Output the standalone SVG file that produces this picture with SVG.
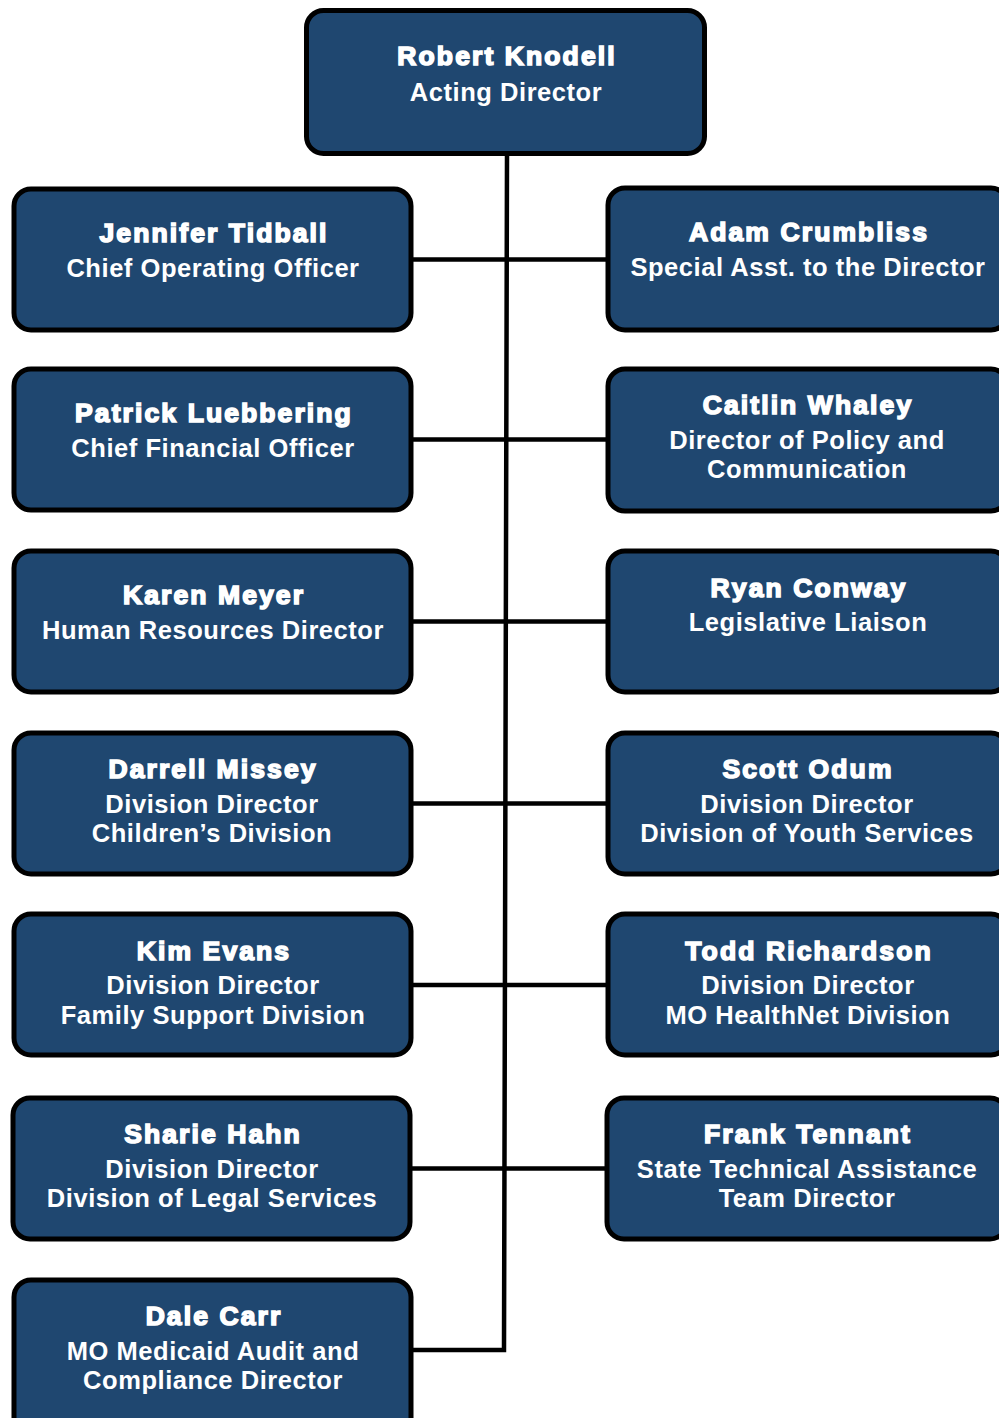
<svg xmlns="http://www.w3.org/2000/svg" width="999" height="1418" viewBox="0 0 999 1418">
<style>
.box{fill:#1F4770;stroke:#000;stroke-width:5}
.nm{font-family:"Liberation Sans",Arial,sans-serif;font-weight:bold;font-size:26.5px;fill:#fff;stroke:#fff;stroke-width:1.6;letter-spacing:2.1px;text-anchor:middle}
.tt{font-family:"Liberation Sans",Arial,sans-serif;font-weight:bold;font-size:25.5px;fill:#fff;letter-spacing:0.55px;text-anchor:middle}
.cn{fill:none;stroke:#000;stroke-width:4.5}
</style>
<rect width="999" height="1418" fill="#fff"/>
<g id="connectors">
<polyline class="cn" points="507,154 504,1350 413,1350"/>
<line class="cn" x1="411" y1="259.5" x2="608" y2="259.5"/>
<line class="cn" x1="411" y1="439.5" x2="608" y2="439.5"/>
<line class="cn" x1="411" y1="621.5" x2="608" y2="621.5"/>
<line class="cn" x1="411" y1="803.5" x2="608" y2="803.5"/>
<line class="cn" x1="411" y1="985" x2="608" y2="985"/>
<line class="cn" x1="411" y1="1168.5" x2="608" y2="1168.5"/>
</g>
<g id="robert-knodell">
<rect class="box" x="306.5" y="10.5" width="398" height="143" rx="17"/>
<text class="nm" x="507" y="65">Robert Knodell</text>
<text class="tt" x="506" y="101">Acting Director</text>
</g>
<g id="jennifer-tidball">
<rect class="box" x="14" y="189" width="397" height="141" rx="17"/>
<text class="nm" x="214" y="242">Jennifer Tidball</text>
<text class="tt" x="213" y="277">Chief Operating Officer</text>
</g>
<g id="adam-crumbliss">
<rect class="box" x="608" y="188" width="400" height="142" rx="17"/>
<text class="nm" x="809" y="241">Adam Crumbliss</text>
<text class="tt" x="808" y="276">Special Asst. to the Director</text>
</g>
<g id="patrick-luebbering">
<rect class="box" x="14" y="369" width="397" height="141" rx="17"/>
<text class="nm" x="214" y="422">Patrick Luebbering</text>
<text class="tt" x="213" y="457">Chief Financial Officer</text>
</g>
<g id="caitlin-whaley">
<rect class="box" x="608" y="369" width="400" height="142" rx="17"/>
<text class="nm" x="808" y="414">Caitlin Whaley</text>
<text class="tt" x="807" y="449">Director of Policy and</text>
<text class="tt" x="807" y="478">Communication</text>
</g>
<g id="karen-meyer">
<rect class="box" x="14" y="551" width="397" height="141" rx="17"/>
<text class="nm" x="214" y="604">Karen Meyer</text>
<text class="tt" x="213" y="639">Human Resources Director</text>
</g>
<g id="ryan-conway">
<rect class="box" x="608" y="551" width="400" height="141" rx="17"/>
<text class="nm" x="809" y="597">Ryan Conway</text>
<text class="tt" x="808" y="631">Legislative Liaison</text>
</g>
<g id="darrell-missey">
<rect class="box" x="14" y="733" width="397" height="141" rx="17"/>
<text class="nm" x="213" y="778">Darrell Missey</text>
<text class="tt" x="212" y="813">Division Director</text>
<text class="tt" x="212" y="842">Children’s Division</text>
</g>
<g id="scott-odum">
<rect class="box" x="608" y="733" width="400" height="141" rx="17"/>
<text class="nm" x="808" y="778">Scott Odum</text>
<text class="tt" x="807" y="813">Division Director</text>
<text class="tt" x="807" y="842">Division of Youth Services</text>
</g>
<g id="kim-evans">
<rect class="box" x="14" y="914" width="397" height="141" rx="17"/>
<text class="nm" x="214" y="960">Kim Evans</text>
<text class="tt" x="213" y="994">Division Director</text>
<text class="tt" x="213" y="1024">Family Support Division</text>
</g>
<g id="todd-richardson">
<rect class="box" x="608" y="914" width="400" height="141" rx="17"/>
<text class="nm" x="809" y="960">Todd Richardson</text>
<text class="tt" x="808" y="994">Division Director</text>
<text class="tt" x="808" y="1024">MO HealthNet Division</text>
</g>
<g id="sharie-hahn">
<rect class="box" x="13" y="1098" width="397" height="141" rx="17"/>
<text class="nm" x="213" y="1143">Sharie Hahn</text>
<text class="tt" x="212" y="1178">Division Director</text>
<text class="tt" x="212" y="1207">Division of Legal Services</text>
</g>
<g id="frank-tennant">
<rect class="box" x="607" y="1098" width="400" height="141" rx="17"/>
<text class="nm" x="808" y="1143">Frank Tennant</text>
<text class="tt" x="807" y="1178">State Technical Assistance</text>
<text class="tt" x="807" y="1207">Team Director</text>
</g>
<g id="dale-carr">
<rect class="box" x="14" y="1280" width="397" height="160" rx="17"/>
<text class="nm" x="214" y="1325">Dale Carr</text>
<text class="tt" x="213" y="1360">MO Medicaid Audit and</text>
<text class="tt" x="213" y="1389">Compliance Director</text>
</g>
</svg>
